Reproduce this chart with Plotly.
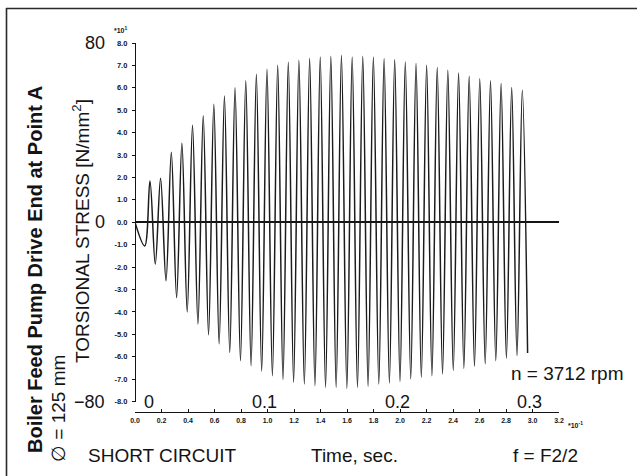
import plotly.graph_objects as go

# Torsional stress extrema (troughs and peaks alternate, starting and ending on a trough)
trough_ms = [7.3, 15.3, 23.4, 31.4, 39.4, 47.5, 55.5, 63.5, 71.5, 79.6, 87.6, 95.6,
             103.7, 111.7, 119.7, 127.8, 135.8, 143.8, 151.8, 159.9, 167.9, 175.9,
             184.0, 192.0, 200.0, 208.1, 216.1, 224.1, 232.1, 240.2, 248.2, 256.2,
             264.3, 272.3, 280.3, 288.3, 296.3]
trough_val = [-10.6, -18.7, -26.1, -33.6, -40.0, -45.4, -50.2, -54.3, -58.1, -61.8,
              -64.0, -66.5, -68.5, -70.2, -71.4, -72.2, -73.0, -73.7, -73.7, -74.1,
              -73.7, -73.2, -72.2, -71.7, -71.1, -69.9, -69.2, -68.5, -67.7, -66.2,
              -65.2, -64.3, -63.2, -61.8, -60.7, -59.5, -58.4]
peak_ms = [11.3, 19.3, 27.4, 35.4, 43.4, 51.5, 59.5, 67.5, 75.5, 83.6, 91.6, 99.6,
           107.7, 115.7, 123.7, 131.8, 139.8, 147.8, 155.8, 163.9, 171.9, 179.9,
           188.0, 196.0, 204.0, 212.1, 220.1, 228.1, 236.1, 244.2, 252.2, 260.2,
           268.3, 276.3, 284.3, 292.3]
peak_val = [18.4, 19.6, 31.2, 35.3, 43.3, 47.5, 52.7, 56.3, 60.0, 63.1, 66.1, 68.3,
            70.1, 71.4, 72.3, 73.2, 73.8, 74.1, 74.5, 73.8, 74.1, 73.8, 73.1, 72.6,
            71.5, 70.8, 70.1, 69.1, 67.8, 66.6, 65.2, 64.1, 63.1, 61.9, 60.1, 58.9]

# Axis ticks
y_tick_vals = [80, 70, 60, 50, 40, 30, 20, 10, 0, -10, -20, -30, -40, -50, -60, -70, -80]
y_tick_text = ["8.0", "7.0", "6.0", "5.0", "4.0", "3.0", "2.0", "1.0", "0.0",
               "-1.0", "-2.0", "-3.0", "-4.0", "-5.0", "-6.0", "-7.0", "-8.0"]
x_tick_vals = [0.00, 0.02, 0.04, 0.06, 0.08, 0.10, 0.12, 0.14, 0.16, 0.18, 0.20,
               0.22, 0.24, 0.26, 0.28, 0.30, 0.32]
x_tick_text = ["0.0", "0.2", "0.4", "0.6", "0.8", "1.0", "1.2", "1.4", "1.6", "1.8",
               "2.0", "2.2", "2.4", "2.6", "2.8", "3.0", "3.2"]
y_big_labels = [(80, "80"), (0, "0"), (-80, "\u221280")]
x_big_labels = [(0.1, "0.1"), (0.2, "0.2"), (0.3, "0.3")]

# Build the oscillating trace: start at zero, then trough/peak alternation
t_s = [0.0]
stress = [0.0]
for i in range(len(trough_ms)):
    t_s.append(trough_ms[i] / 1000.0)
    stress.append(trough_val[i])
    if i < len(peak_ms):
        t_s.append(peak_ms[i] / 1000.0)
        stress.append(peak_val[i])

W, H = 637, 476
L, R, T, B = 135, 78, 43, 64
PW = W - L - R
PH = H - T - B
Y_BOTTOM_PX = 401.5  # where the stress axis ends above the time axis


def px_x(p):
    return (p - L) / PW


def px_y(p):
    return (H - B - p) / PH


FONT = "Liberation Sans, Arial, Helvetica, sans-serif"
INK = "#141414"

fig = go.Figure()
fig.add_trace(go.Scatter(
    x=t_s, y=stress, mode="lines",
    line=dict(color="#1c1c1c", width=1.5, shape="spline", smoothing=1.0),
    hoverinfo="skip", showlegend=False,
))

annotations = []
for val, txt in y_big_labels:
    annotations.append(dict(x=px_x(107), xref="paper", y=val, yref="y",
                            text=txt, showarrow=False, xanchor="right", yanchor="middle",
                            font=dict(size=18, color=INK, family=FONT)))
annotations.append(dict(x=0, xref="x", y=-80, yref="y", text="0", showarrow=False,
                        xanchor="left", yanchor="middle", xshift=7, yshift=0,
                        font=dict(size=18, color=INK, family=FONT)))
for val, txt in x_big_labels:
    annotations.append(dict(x=val, xref="x", y=-80, yref="y", text=txt, showarrow=False,
                            xanchor="center", yanchor="middle", xshift=-3,
                            font=dict(size=18, color=INK, family=FONT)))

annotations += [
    dict(x=px_x(112), xref="paper", y=px_y(30), yref="paper", text="*10<sup>1</sup>",
         showarrow=False, xanchor="left", yanchor="middle",
         font=dict(size=7, color=INK, family=FONT, weight="bold")),
    dict(x=px_x(566), xref="paper", y=px_y(425), yref="paper", text="*10<sup>-1</sup>",
         showarrow=False, xanchor="left", yanchor="middle",
         font=dict(size=7, color=INK, family=FONT, weight="bold")),
    dict(x=px_x(509), xref="paper", y=px_y(373), yref="paper", text="n = 3712 rpm",
         showarrow=False, xanchor="left", yanchor="middle",
         font=dict(size=19, color=INK, family=FONT)),
    dict(x=px_x(86), xref="paper", y=px_y(455), yref="paper", text="SHORT CIRCUIT",
         showarrow=False, xanchor="left", yanchor="middle",
         font=dict(size=19, color=INK, family=FONT)),
    dict(x=px_x(309), xref="paper", y=px_y(455), yref="paper", text="Time, sec.",
         showarrow=False, xanchor="left", yanchor="middle",
         font=dict(size=19, color=INK, family=FONT)),
    dict(x=px_x(511), xref="paper", y=px_y(455), yref="paper", text="f = F2/2",
         showarrow=False, xanchor="left", yanchor="middle",
         font=dict(size=19, color=INK, family=FONT)),
    dict(x=px_x(35), xref="paper", y=px_y(270), yref="paper",
         text="Boiler Feed Pump Drive End at Point A", textangle=-90,
         showarrow=False, xanchor="center", yanchor="middle",
         font=dict(size=20, color=INK, family=FONT, weight="bold")),
    dict(x=px_x(58), xref="paper", y=px_y(409), yref="paper",
         text="\u2205 = 125 mm", textangle=-90,
         showarrow=False, xanchor="center", yanchor="middle",
         font=dict(size=19, color=INK, family=FONT)),
    dict(x=px_x(81), xref="paper", y=px_y(231), yref="paper",
         text="TORSIONAL STRESS [N/mm<sup>2</sup>]", textangle=-90,
         showarrow=False, xanchor="center", yanchor="middle",
         font=dict(size=19, color=INK, family=FONT)),
]

# Page frame: left and top rules
shapes = [
    dict(type="line", xref="paper", yref="paper", x0=px_x(6.5), x1=px_x(6.5),
         y0=px_y(8), y1=px_y(476), line=dict(color="#2a2a2a", width=1.6)),
    dict(type="line", xref="paper", yref="paper", x0=px_x(6), x1=px_x(637),
         y0=px_y(8.5), y1=px_y(8.5), line=dict(color="#2a2a2a", width=1.6)),
]

fig.update_layout(
    width=W, height=H,
    margin=dict(l=L, r=R, t=T, b=B, pad=0),
    paper_bgcolor="white", plot_bgcolor="white",
    showlegend=False,
    font=dict(family=FONT, color=INK),
    xaxis=dict(
        range=[0, 0.32], anchor="free", position=0,
        showgrid=False, zeroline=False,
        showline=True, linecolor=INK, linewidth=1.3,
        ticks="inside", ticklen=3, tickwidth=1, tickcolor=INK,
        tickvals=x_tick_vals, ticktext=x_tick_text,
        tickfont=dict(size=7, color=INK, family=FONT, weight="bold"),
        ticklabelstandoff=1,
        fixedrange=True,
    ),
    yaxis=dict(
        range=[-80, 80], domain=[px_y(Y_BOTTOM_PX), 1], anchor="free", position=0,
        showgrid=False,
        zeroline=True, zerolinecolor=INK, zerolinewidth=1.5,
        showline=True, linecolor=INK, linewidth=1.3,
        ticks="outside", ticklen=3, tickwidth=1, tickcolor=INK,
        tickvals=y_tick_vals, ticktext=y_tick_text,
        tickfont=dict(size=7.5, color=INK, family=FONT, weight="bold"),
        ticklabelstandoff=3,
        fixedrange=True,
    ),
    annotations=annotations,
    shapes=shapes,
)

fig.write_html("out.html")
